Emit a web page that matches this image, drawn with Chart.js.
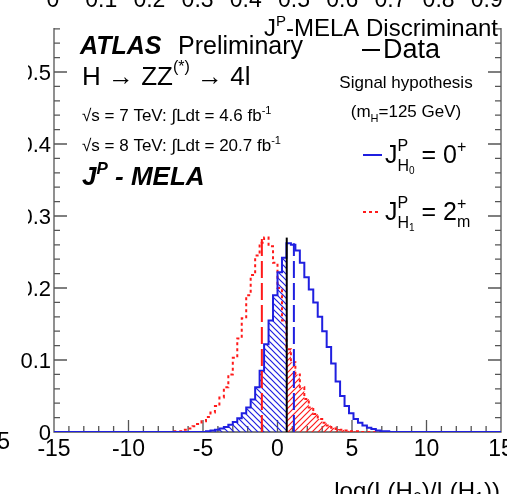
<!DOCTYPE html>
<html>
<head>
<meta charset="utf-8">
<script src="https://cdn.jsdelivr.net/npm/chart.js@4.4.1/dist/chart.umd.min.js"></script>
<style>
  html, body { margin: 0; padding: 0; background: #fff; }
  #wrap { width: 507px; height: 494px; position: relative; }
</style>
</head>
<body>
<div id="wrap"><canvas id="c" width="507" height="494"></canvas></div>
<script>
// ---- data ----
const binWidth = 0.3;
const firstEdge = -7.2;          // left edge of first listed bin
// J^P = 0+ (blue, solid)
const sm0Values = [
  0, 0, 0, 0, 0, 0, 0, 0,
  0.001, 0.002, 0.003, 0.005, 0.007, 0.010, 0.014, 0.019, 0.026, 0.034, 0.045, 0.062,
  0.085, 0.122, 0.155, 0.190, 0.222, 0.242, 0.262, 0.260, 0.252, 0.235, 0.215, 0.198,
  0.180, 0.160, 0.140, 0.118, 0.095, 0.070, 0.050, 0.036, 0.026, 0.018, 0.013, 0.009,
  0.006, 0.004, 0.002, 0.001, 0.001, 0, 0
];
// J^P = 2+m (red, dotted)
const sm2Values = [
  0, 0.001, 0.001, 0.003, 0.005, 0.008, 0.011, 0.015, 0.021, 0.027, 0.036, 0.048,
  0.062, 0.080, 0.103, 0.130, 0.158, 0.190, 0.218, 0.245, 0.263, 0.270, 0.258, 0.235,
  0.200, 0.155, 0.115, 0.097, 0.080, 0.062, 0.046, 0.034, 0.025, 0.018, 0.013, 0.009,
  0.006, 0.004, 0.003, 0.002, 0.001, 0.001, 0, 0, 0, 0, 0, 0, 0, 0, 0
];
const dataObs = 0.62, dataHeight = 0.27;
const median0 = 1.1, median0Height = 0.262;
const median2 = -1.05, median2Height = 0.27;
const xTickLabels = ['-15', '-10', '-5', '0', '5', '10', '15'];
const xTickValues = [-15, -10, -5, 0, 5, 10, 15];
const yTickLabels = ['0', '0.1', '0.2', '0.3', '0.4', '0.5'];
const yTickValues = [0, 0.1, 0.2, 0.3, 0.4, 0.5];
const topTickLabels = ['0', '0.1', '0.2', '0.3', '0.4', '0.5', '0.6', '0.7', '0.8', '0.9'];

const BLUE = '#1f1fe0', RED = '#ff1a1a', AXIS = '#555';
const F = '"Liberation Sans", Arial, Helvetica, sans-serif';

const edge = i => Math.round((firstEdge + i * binWidth) * 100) / 100;

function histPoints(values) {
  const pts = [{ x: -15, y: 0 }];
  values.forEach((v, i) => pts.push({ x: edge(i), y: v }));
  pts.push({ x: 15, y: 0 });
  return pts;
}
function leftOf(values, cut) {
  const pts = [];
  values.forEach((v, i) => { if (edge(i) < cut) pts.push({ x: edge(i), y: v }); });
  pts.push({ x: cut, y: 0 });
  return pts;
}
function rightOf(values, cut) {
  const k = Math.floor((cut - firstEdge) / binWidth);
  const pts = [{ x: cut, y: values[k] }];
  values.forEach((v, i) => { if (i > k) pts.push({ x: edge(i), y: v }); });
  pts.push({ x: 15, y: 0 });
  return pts;
}

const canvas = document.getElementById('c');
const mainCtx = canvas.getContext('2d');
function hatch(color, back) {
  const s = 6, c = document.createElement('canvas');
  c.width = s; c.height = s;
  const g = c.getContext('2d');
  g.strokeStyle = color; g.lineWidth = 1.2;
  g.beginPath();
  if (back) {
    g.moveTo(-1, -1); g.lineTo(s + 1, s + 1);
    g.moveTo(-1, s - 1); g.lineTo(1, s + 1);
    g.moveTo(s - 1, -1); g.lineTo(s + 1, 1);
  } else {
    g.moveTo(-1, s + 1); g.lineTo(s + 1, -1);
    g.moveTo(-1, 1); g.lineTo(1, -1);
    g.moveTo(s - 1, s + 1); g.lineTo(s + 1, s - 1);
  }
  g.stroke();
  return mainCtx.createPattern(c, 'repeat');
}

// rich text: parts {t, s, b, i, dy, adv}
function fontOf(p) { return (p.i ? 'italic ' : '') + (p.b ? 'bold ' : '') + p.s + 'px ' + F; }
function drawRuns(ctx, x, y, parts, align) {
  let w = 0;
  parts.forEach(p => { ctx.font = fontOf(p); if (p.adv !== false) w += ctx.measureText(p.t).width; });
  let cx = align === 'right' ? x - w : align === 'center' ? x - w / 2 : x;
  ctx.textAlign = 'left';
  ctx.textBaseline = 'alphabetic';
  parts.forEach(p => {
    ctx.font = fontOf(p);
    ctx.fillText(p.t, cx, y + (p.dy || 0));
    if (p.adv !== false) cx += ctx.measureText(p.t).width;
  });
}

const frame = {
  id: 'frame',
  beforeDatasetsDraw(chart) {
    const { ctx, chartArea: a, scales: { x, y } } = chart;
    ctx.save();
    ctx.strokeStyle = AXIS; ctx.lineWidth = 1.3;
    ctx.beginPath();
    ctx.moveTo(a.left, a.top); ctx.lineTo(a.left, a.bottom); ctx.lineTo(a.right, a.bottom); ctx.lineTo(a.right, a.top);
    // y ticks (left + right)
    for (let k = 0; k <= 30; k++) {
      const py = y.getPixelForValue(k * 0.02);
      const len = k % 5 === 0 ? 13 : 6;
      ctx.moveTo(a.left, py); ctx.lineTo(a.left + len, py);
      ctx.moveTo(a.right, py); ctx.lineTo(a.right - len, py);
    }
    // x ticks
    for (let v = -15; v <= 15; v++) {
      const px = x.getPixelForValue(v);
      const len = v % 5 === 0 ? 12 : 6;
      ctx.moveTo(px, a.bottom); ctx.lineTo(px, a.bottom - len);
    }
    ctx.stroke();
    ctx.restore();
  },
  afterDraw(chart) {
    const { ctx, chartArea: a, scales: { x, y } } = chart;
    ctx.save();
    ctx.fillStyle = '#000';
    // tick labels
    ctx.font = '23px ' + F;
    ctx.textAlign = 'center'; ctx.textBaseline = 'alphabetic';
    xTickValues.forEach((v, i) => ctx.fillText(xTickLabels[i], x.getPixelForValue(v), 456));
    ctx.font = '22px ' + F;
    ctx.textAlign = 'right';
    yTickValues.forEach((v, i) => ctx.fillText(yTickLabels[i], 51, y.getPixelForValue(v) + 8));
    // neighbour crop remnants
    ctx.fillStyle = '#fff';
    ctx.fillRect(0, 0, 507, 28);
    ctx.fillRect(0, 28, 28, 300);
    ctx.fillStyle = '#000';
    ctx.font = '23px ' + F;
    ctx.textAlign = 'right';
    ctx.fillText('15', 10, 449);
    ctx.textAlign = 'center';
    topTickLabels.forEach((t, i) => ctx.fillText(t, 53 + 48.2 * i, 7));
    drawRuns(ctx, 498, 36, [
      { t: 'J', s: 24 }, { t: 'P', s: 15, dy: -10 }, { t: '-MELA Discriminant', s: 24 }
    ], 'right');
    // x axis title
    drawRuns(ctx, 500, 499, [
      { t: 'log(L(H', s: 24 }, { t: '0', s: 16, dy: 5 }, { t: ')/L(H', s: 24 }, { t: '1', s: 16, dy: 5 }, { t: '))', s: 24 }
    ], 'right');

    // ATLAS block
    drawRuns(ctx, 80, 54, [{ t: 'ATLAS', s: 25, b: true, i: true }]);
    drawRuns(ctx, 178, 54, [{ t: 'Preliminary', s: 25 }]);
    drawRuns(ctx, 82, 85, [
      { t: 'H \u2192 ZZ', s: 26 }, { t: '(*)', s: 16, dy: -13 }, { t: ' \u2192 4l', s: 26 }
    ]);
    drawRuns(ctx, 82, 121, [
      { t: '\u221As = 7 TeV: \u222BLdt = 4.6 fb', s: 17 }, { t: '-1', s: 11, dy: -7 }
    ]);
    drawRuns(ctx, 82, 151, [
      { t: '\u221As = 8 TeV: \u222BLdt = 20.7 fb', s: 17 }, { t: '-1', s: 11, dy: -7 }
    ]);
    drawRuns(ctx, 82, 185, [
      { t: 'J', s: 26, b: true, i: true }, { t: 'P', s: 17, b: true, i: true, dy: -11 },
      { t: ' - MELA', s: 26, b: true, i: true }
    ]);

    // legend
    ctx.lineWidth = 2;
    ctx.strokeStyle = '#000';
    ctx.beginPath(); ctx.moveTo(362, 50); ctx.lineTo(380, 50); ctx.stroke();
    drawRuns(ctx, 383, 58, [{ t: 'Data', s: 27 }]);
    drawRuns(ctx, 406, 88, [{ t: 'Signal hypothesis', s: 17 }], 'center');
    drawRuns(ctx, 406, 117, [
      { t: '(m', s: 17 }, { t: 'H', s: 11, dy: 5 }, { t: '=125 GeV)', s: 17 }
    ], 'center');
    ctx.strokeStyle = BLUE;
    ctx.beginPath(); ctx.moveTo(363, 155); ctx.lineTo(382, 155); ctx.stroke();
    drawRuns(ctx, 385, 163, [
      { t: 'J', s: 25 }, { t: 'P', s: 16, dy: -12, adv: false }, { t: 'H', s: 16, dy: 8 },
      { t: '0', s: 10, dy: 11 }, { t: ' = 0', s: 25 }, { t: '+', s: 16, dy: -11 }
    ]);
    ctx.strokeStyle = RED;
    ctx.setLineDash([3, 3]);
    ctx.beginPath(); ctx.moveTo(363, 212); ctx.lineTo(381, 212); ctx.stroke();
    ctx.setLineDash([]);
    drawRuns(ctx, 385, 220, [
      { t: 'J', s: 25 }, { t: 'P', s: 16, dy: -12, adv: false }, { t: 'H', s: 16, dy: 8 },
      { t: '1', s: 10, dy: 11 }, { t: ' = 2', s: 25 }, { t: '+', s: 16, dy: -11, adv: false },
      { t: 'm', s: 16, dy: 7 }
    ]);
    ctx.restore();
  }
};

new Chart(canvas, {
  type: 'scatter',
  data: {
    datasets: [
      { data: [{ x: dataObs, y: 0 }, { x: dataObs, y: dataHeight }], showLine: true,
        borderColor: '#000', borderWidth: 2, pointRadius: 0, order: 0 },
      { data: [{ x: median0, y: 0 }, { x: median0, y: median0Height }], showLine: true,
        borderColor: BLUE, borderWidth: 2, borderDash: [17, 5], pointRadius: 0, order: 1 },
      { data: [{ x: median2, y: 0 }, { x: median2, y: median2Height }], showLine: true,
        borderColor: RED, borderWidth: 2, borderDash: [17, 5], pointRadius: 0, order: 1 },
      { data: histPoints(sm0Values), showLine: true, stepped: true,
        borderColor: BLUE, borderWidth: 2, pointRadius: 0, order: 2 },
      { data: histPoints(sm2Values), showLine: true, stepped: true,
        borderColor: RED, borderWidth: 2, borderDash: [3, 3], pointRadius: 0, order: 3 },
      { data: leftOf(sm0Values, dataObs), showLine: true, stepped: true, fill: 'origin',
        backgroundColor: hatch(BLUE, true), borderColor: 'transparent', borderWidth: 0, pointRadius: 0, order: 4 },
      { data: rightOf(sm2Values, dataObs), showLine: true, stepped: true, fill: 'origin',
        backgroundColor: hatch(RED, false), borderColor: 'transparent', borderWidth: 0, pointRadius: 0, order: 5 }
    ]
  },
  options: {
    responsive: false,
    animation: false,
    devicePixelRatio: 1,
    layout: { padding: { left: 54, right: 6, top: 0, bottom: 62 } },
    scales: {
      x: { type: 'linear', min: -15, max: 15, display: false },
      y: { type: 'linear', min: 0, max: 0.6, display: false }
    },
    plugins: { legend: { display: false }, tooltip: { enabled: false } }
  },
  plugins: [frame]
});
</script>
</body>
</html>
